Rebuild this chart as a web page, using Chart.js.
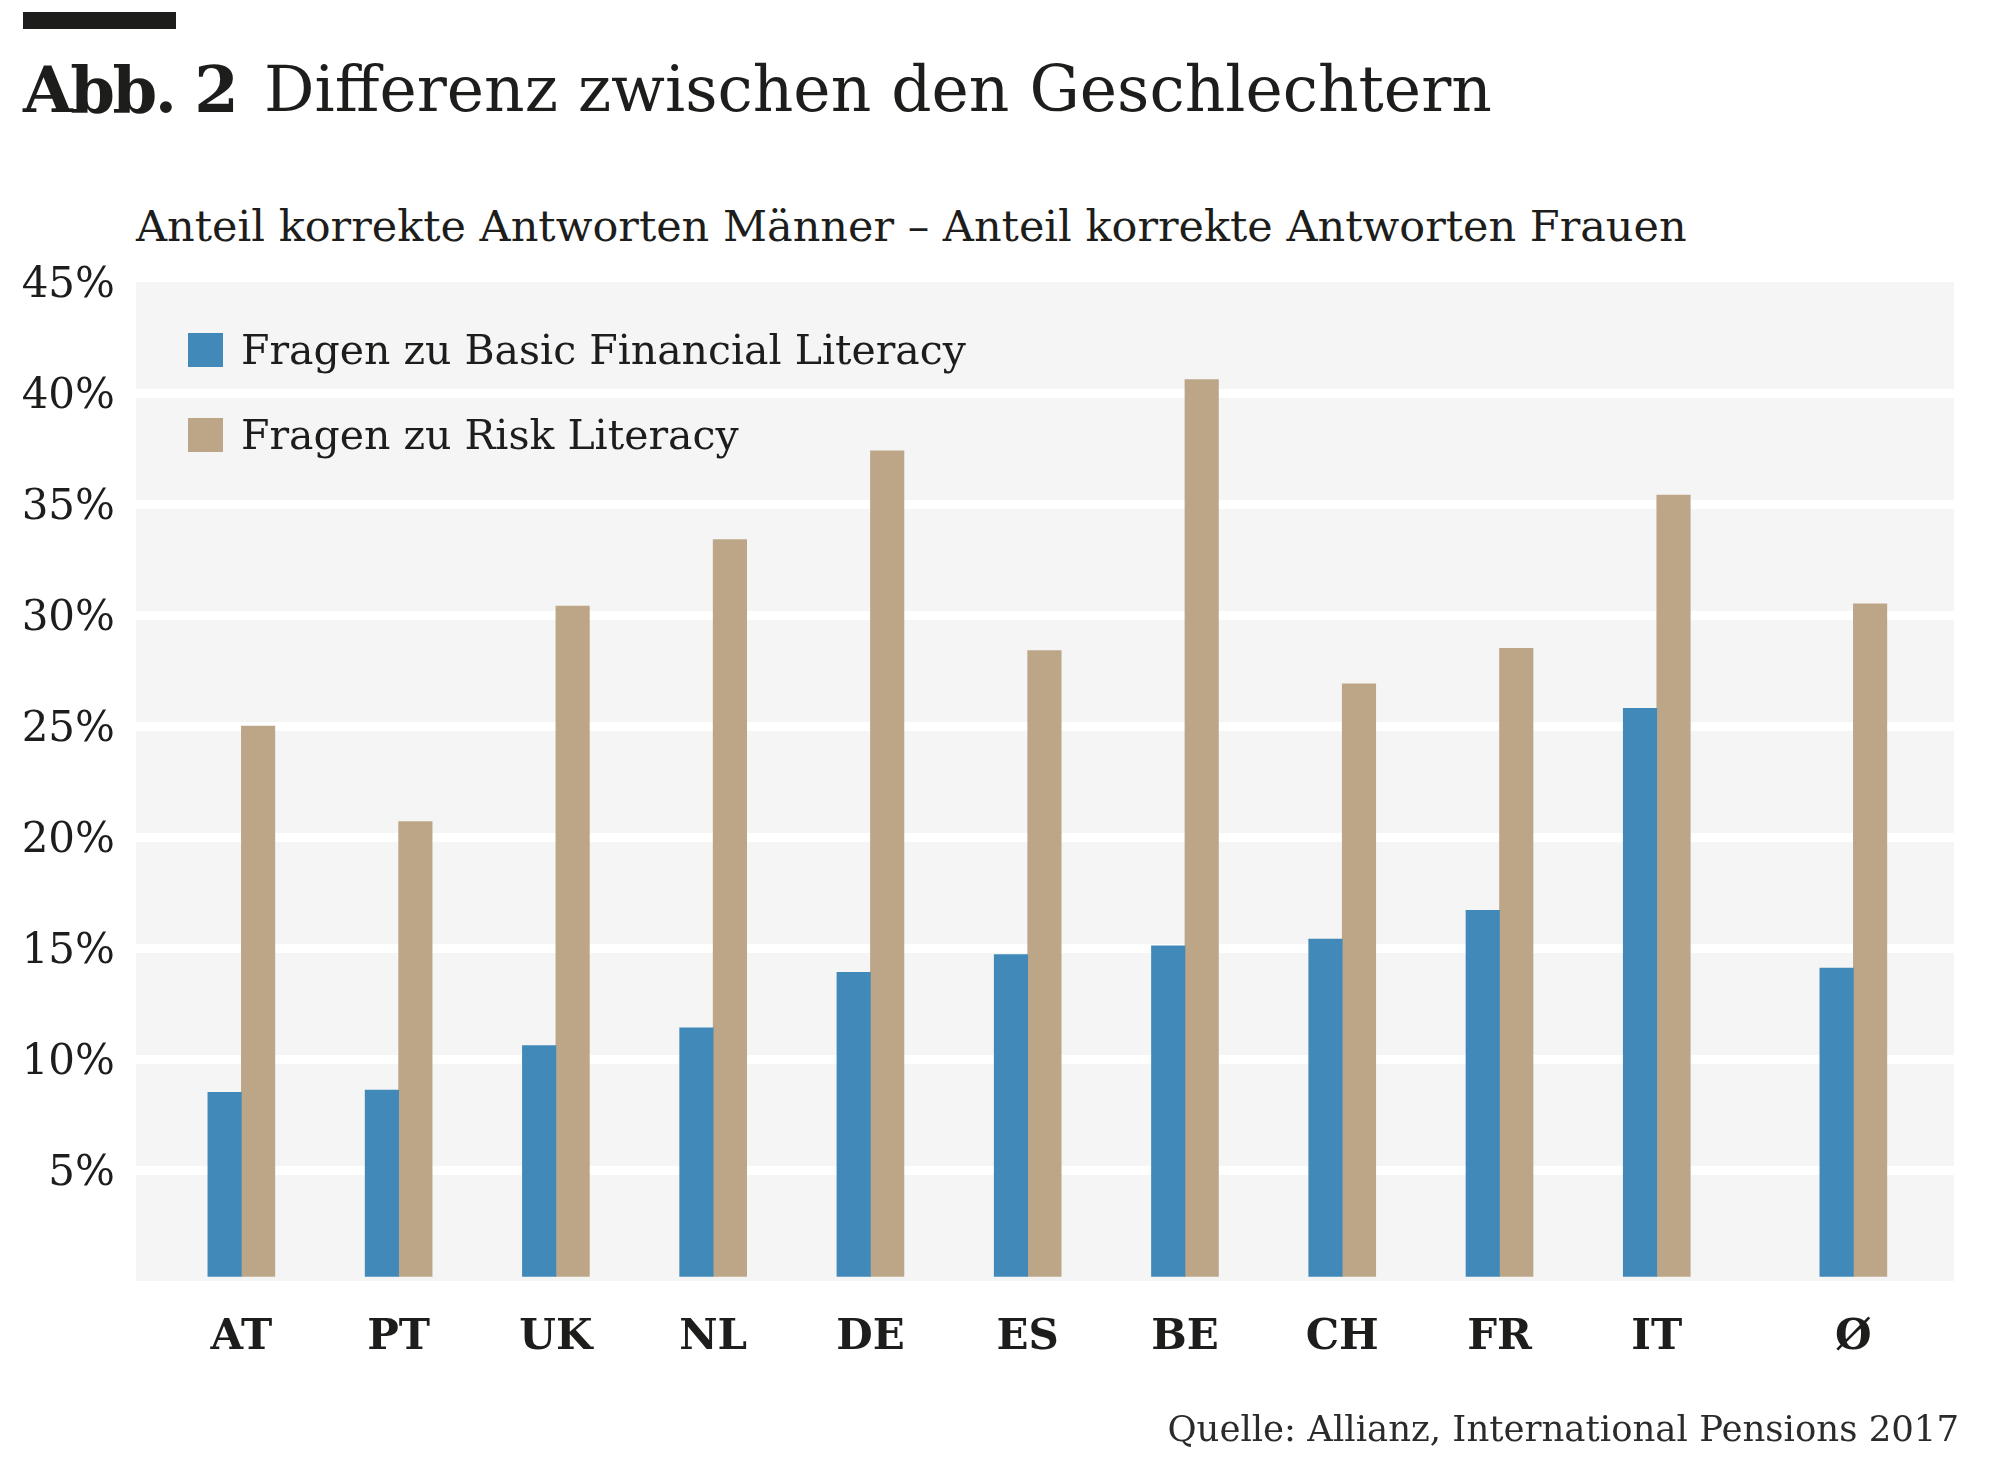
<!DOCTYPE html>
<html lang="de">
<head>
<meta charset="utf-8">
<title>Differenz zwischen den Geschlechtern</title>
<script src="https://cdn.jsdelivr.net/npm/chart.js@4/dist/chart.umd.min.js"></script>
<style>
  html, body { margin: 0; padding: 0; background: #fff; }
  body { width: 2000px; height: 1465px; position: relative; overflow: hidden;
         font-family: 'DejaVu Serif', serif; color: #1d1d1b; }
  #topbar { position: absolute; left: 23px; top: 12px; width: 153px; height: 17px; background: #1d1d1b; }
  .title { position: absolute; top: 58px; font-size: 63px; line-height: 64px; white-space: nowrap; }
  #title-num { left: 23px; font-weight: bold; font-size: 64px; letter-spacing: -2.5px; }
  #title-text { left: 264px; }
  #subtitle { position: absolute; left: 136px; top: 205px; font-size: 43px; line-height: 42px; white-space: nowrap; }
  #source { position: absolute; right: 41px; top: 1411px; font-size: 35.5px; line-height: 35px; white-space: nowrap; color: #2b2b2b; }
  #chart { position: absolute; left: 0; top: 0; }
  .legend-row { position: absolute; left: 188px; height: 34px; }
  .legend-row .swatch { position: absolute; left: 0; top: 0; width: 35px; height: 34px; }
  .legend-row .label { position: absolute; left: 53px; top: -4px; font-size: 41px; line-height: 42px; white-space: nowrap; }
</style>
</head>
<body>
<div id="topbar"></div>
<div class="title" id="title-num">Abb. 2</div>
<div class="title" id="title-text">Differenz zwischen den Geschlechtern</div>
<div id="subtitle">Anteil korrekte Antworten Männer – Anteil korrekte Antworten Frauen</div>
<canvas id="chart" width="2000" height="1465"></canvas>
<div id="legend"></div>
<div id="source">Quelle: Allianz, International Pensions 2017</div>
<script>
// Werte in Prozentpunkten (Männer minus Frauen)
const countries = ['AT', 'PT', 'UK', 'NL', 'DE', 'ES', 'BE', 'CH', 'FR', 'IT', 'Ø'];
const basicLiteracy = [8.5, 8.6, 10.6, 11.4, 13.9, 14.7, 15.1, 15.4, 16.7, 25.8, 14.1];
const riskLiteracy = [25.0, 20.7, 30.4, 33.4, 37.4, 28.4, 40.6, 26.9, 28.5, 35.4, 30.5];
const yTicks = [0, 5, 10, 15, 20, 25, 30, 35, 40, 45];

const BLUE = '#4189b9';
const TAN = '#bda688';
const TEXT = '#1d1d1b';

// the average (last group) sits a bit apart from the countries
const slotOf = i => (i === countries.length - 1 ? i + 0.25 : i);
const toPoints = values => values.map((v, i) => ({ x: slotOf(i), y: v }));

const plotBackground = {
    id: 'plotBackground',
    beforeDraw(chart) {
        const { ctx, chartArea: a } = chart;
        ctx.save();
        ctx.fillStyle = '#f5f5f5';
        ctx.fillRect(a.left, a.top, a.right - a.left, a.bottom - a.top);
        ctx.restore();
    }
};

const chart = new Chart(document.getElementById('chart').getContext('2d'), {
    type: 'bar',
    data: {
        datasets: [
            {
                label: 'Fragen zu Basic Financial Literacy',
                data: toPoints(basicLiteracy),
                backgroundColor: BLUE,
                barThickness: 33.5
            },
            {
                label: 'Fragen zu Risk Literacy',
                data: toPoints(riskLiteracy),
                backgroundColor: TAN,
                barThickness: 33.5
            }
        ]
    },
    options: {
        responsive: false,
        animation: false,
        layout: { padding: { left: 0, top: 282, right: 46, bottom: 64 } },
        plugins: {
            legend: { display: false },
            tooltip: { enabled: false }
        },
        scales: {
            x: {
                type: 'linear',
                offset: false,
                min: -0.67,
                max: 10.89,
                afterBuildTicks(scale) {
                    scale.ticks = countries.map((c, i) => ({ value: slotOf(i) }));
                },
                afterFit(scale) { scale.height = 120; },
                grid: { display: false, drawTicks: false },
                border: { display: false },
                ticks: {
                    autoSkip: false,
                    maxRotation: 0,
                    padding: 32,
                    color: TEXT,
                    font: { family: 'DejaVu Serif', size: 42, weight: 'bold' },
                    callback: (value, index) => countries[index]
                }
            },
            y: {
                min: 0,
                max: 45,
                afterBuildTicks(scale) {
                    scale.ticks = yTicks.map(v => ({ value: v }));
                },
                afterFit(scale) { scale.width = 136; },
                grid: {
                    drawTicks: false,
                    lineWidth: 9,
                    color: ctx => (ctx.tick.value === 0 || ctx.tick.value === 45) ? 'rgba(0,0,0,0)' : '#ffffff'
                },
                border: { display: false },
                ticks: {
                    padding: 21,
                    labelOffset: 4,
                    color: TEXT,
                    font: { family: 'DejaVu Serif', size: 42 },
                    callback: v => (v === 0 ? '' : v + '%')
                }
            }
        }
    },
    plugins: [plotBackground]
});

// legend inside the plot, built from the datasets
const legend = document.getElementById('legend');
chart.data.datasets.forEach((ds, i) => {
    const row = document.createElement('div');
    row.className = 'legend-row';
    row.style.top = (333 + i * 85) + 'px';
    const swatch = document.createElement('span');
    swatch.className = 'swatch';
    swatch.style.background = ds.backgroundColor;
    const label = document.createElement('span');
    label.className = 'label';
    label.textContent = ds.label;
    row.appendChild(swatch);
    row.appendChild(label);
    legend.appendChild(row);
});
</script>
</body>
</html>
